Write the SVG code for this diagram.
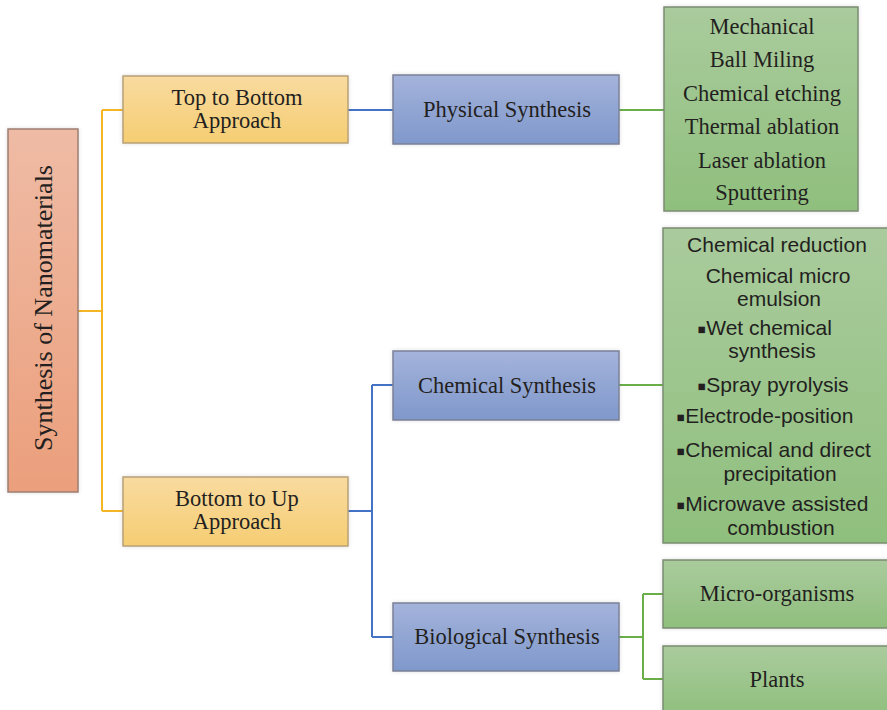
<svg xmlns="http://www.w3.org/2000/svg" width="887" height="710" viewBox="0 0 887 710">
<defs>
<linearGradient id="gRoot" x1="0" y1="0" x2="0" y2="1"><stop offset="0" stop-color="#efbba5"/><stop offset="1" stop-color="#eb9f7c"/></linearGradient>
<linearGradient id="gYel" x1="0" y1="0" x2="0" y2="1"><stop offset="0" stop-color="#f9dba0"/><stop offset="1" stop-color="#f5cd72"/></linearGradient>
<linearGradient id="gBlue" x1="0" y1="0" x2="0" y2="1"><stop offset="0" stop-color="#a4b3db"/><stop offset="1" stop-color="#7f98cb"/></linearGradient>
<linearGradient id="gGreen" x1="0" y1="0" x2="0" y2="1"><stop offset="0" stop-color="#aacb9d"/><stop offset="1" stop-color="#8fbf7d"/></linearGradient>
<filter id="sh" x="-10%" y="-10%" width="120%" height="120%"><feDropShadow dx="0" dy="0" stdDeviation="2" flood-color="#000" flood-opacity="0.12"/></filter>
</defs>
<style>
.root{fill:url(#gRoot);stroke:#9d7e73;stroke-width:1.5}
.yel{fill:url(#gYel);stroke:#b7a077;stroke-width:1.5}
.blue{fill:url(#gBlue);stroke:#7b8096;stroke-width:1.5}
.green{fill:url(#gGreen);stroke:#7a8c72;stroke-width:1.5}
.box{filter:url(#sh)}
.t{font-family:"Liberation Serif","Times New Roman",serif;font-size:22.5px;fill:#231f20;text-anchor:middle}
.s{font-family:"Liberation Sans",Arial,sans-serif;font-size:21px;fill:#231f20}
.m{text-anchor:middle}
.b{font-size:26px}
.cy{fill:none;stroke:#f5b626;stroke-width:2}
.cb{fill:none;stroke:#4472c4;stroke-width:2}
.cg{fill:none;stroke:#6aae4a;stroke-width:2}
</style>
<g id="connectors">
<path class="cy" d="M78 311 H102 M102 110 V511 M102 110 H123 M102 511 H123"/>
<path class="cb" d="M348 110 H393"/>
<path class="cb" d="M348 511 H372 M372 385 V637 M372 385 H393 M372 637 H393"/>
<path class="cg" d="M619 110 H664"/>
<path class="cg" d="M619 385 H663"/>
<path class="cg" d="M619 637 H643 M643 594 V679 M643 594 H663 M643 679 H663"/>
</g>
<g id="root">
<rect class="root box" x="8" y="129" width="70" height="363"/>
<text class="t" transform="translate(52,308) rotate(-90)" style="font-size:26px">Synthesis of Nanomaterials</text>
</g>
<g id="top-to-bottom">
<rect class="yel box" x="123" y="76" width="225" height="67"/>
<text class="t" x="237" y="105">Top to Bottom</text>
<text class="t" x="237" y="128">Approach</text>
</g>
<g id="bottom-to-up">
<rect class="yel box" x="123" y="477" width="225" height="69"/>
<text class="t" x="237" y="506">Bottom to Up</text>
<text class="t" x="237" y="529">Approach</text>
</g>
<g id="physical">
<rect class="blue box" x="393" y="75" width="226" height="69"/>
<text class="t" x="507" y="117">Physical Synthesis</text>
</g>
<g id="chemical">
<rect class="blue box" x="393" y="351" width="226" height="69"/>
<text class="t" x="507" y="393">Chemical Synthesis</text>
</g>
<g id="biological">
<rect class="blue box" x="393" y="603" width="226" height="68"/>
<text class="t" x="507" y="644">Biological Synthesis</text>
</g>
<g id="physical-methods">
<rect class="green box" x="664" y="7" width="194" height="204"/>
<text class="t" x="762" y="34">Mechanical</text>
<text class="t" x="762" y="67">Ball Miling</text>
<text class="t" x="762" y="101">Chemical etching</text>
<text class="t" x="762" y="134">Thermal ablation</text>
<text class="t" x="762" y="168">Laser ablation</text>
<text class="t" x="762" y="200">Sputtering</text>
</g>
<g id="chemical-methods">
<rect class="green box" x="663" y="228" width="230" height="315"/>
<text class="s m" x="777" y="252">Chemical reduction</text>
<text class="s m" x="778" y="283">Chemical micro</text>
<text class="s m" x="779" y="306">emulsion</text>
<text class="s" x="697" y="335"><tspan class="b" dy="3">▪</tspan><tspan dy="-3">Wet chemical</tspan></text>
<text class="s m" x="772" y="358">synthesis</text>
<text class="s" x="697" y="392"><tspan class="b" dy="3">▪</tspan><tspan dy="-3">Spray pyrolysis</tspan></text>
<text class="s" x="676" y="423"><tspan class="b" dy="3">▪</tspan><tspan dy="-3">Electrode-position</tspan></text>
<text class="s" x="676" y="457"><tspan class="b" dy="3">▪</tspan><tspan dy="-3">Chemical and direct</tspan></text>
<text class="s m" x="780" y="481">precipitation</text>
<text class="s" x="676" y="511"><tspan class="b" dy="3">▪</tspan><tspan dy="-3">Microwave assisted</tspan></text>
<text class="s m" x="781" y="535">combustion</text>
</g>
<g id="micro-organisms">
<rect class="green box" x="663" y="560" width="230" height="68"/>
<text class="t" x="777" y="601">Micro-organisms</text>
</g>
<g id="plants">
<rect class="green box" x="663" y="646" width="230" height="70"/>
<text class="t" x="777" y="687">Plants</text>
</g>
</svg>
